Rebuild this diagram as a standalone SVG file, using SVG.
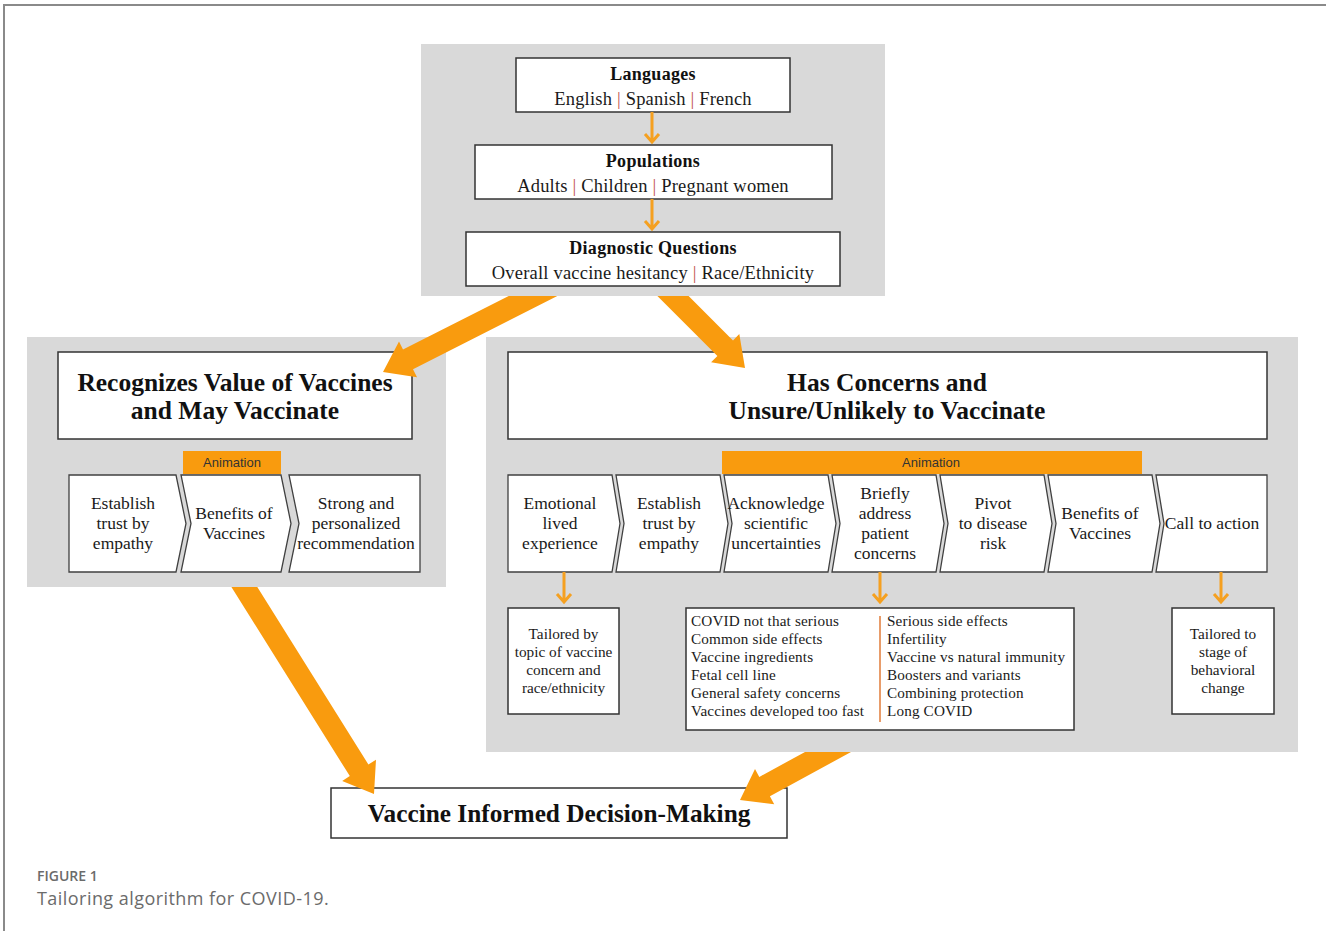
<svg xmlns="http://www.w3.org/2000/svg" width="1326" height="931" viewBox="0 0 1326 931">
<style>
.panel{fill:#d9d9d9;stroke:none}
.box{fill:#fff;stroke:#333;stroke-width:1.5}
.chev{fill:#fff;stroke:#404040;stroke-width:1.3}
.anim{fill:#f99b0e}
.t{font-family:"Liberation Serif",serif;fill:#1a1a1a;text-anchor:middle}
.h{font-family:"Liberation Serif",serif;font-weight:bold;fill:#111;text-anchor:middle}
.sub{font-size:18.5px;letter-spacing:0.2px}
.hd{font-size:18px;letter-spacing:0.3px}
.big{font-size:25.5px}
.cv{font-size:17.5px}
.sm{font-size:15.3px}
.ls{font-family:"Liberation Serif",serif;font-size:15.2px;letter-spacing:0.15px;fill:#1a1a1a}
.sep{fill:#c0504d}
.an{font-family:"Liberation Sans",sans-serif;font-size:13px;fill:#333;text-anchor:middle}
.big-arrow{fill:#f99b0e}
.sa{fill:none;stroke:#f5a020;stroke-width:3}
.cap{font-family:"Open Sans",sans-serif;fill:#6b6b6b}
</style>
<rect width="1326" height="931" fill="#fff"/>
<path d="M4,931 V5 H1326" fill="none" stroke="#8a8a8a" stroke-width="2"/>

<g id="panel-top">
<rect class="panel" x="421" y="44" width="464" height="252"/>
</g>
<g id="panel-left">
<rect class="panel" x="27" y="337" width="419" height="250"/>
</g>
<g id="panel-right">
<rect class="panel" x="486" y="337" width="812" height="415"/>
</g>

<g id="languages">
<rect class="box" x="516" y="58" width="274" height="54"/>
<text class="h hd" x="653" y="80">Languages</text>
<text class="t sub" x="653" y="105">English <tspan class="sep">|</tspan> Spanish <tspan class="sep">|</tspan> French</text>
</g>
<g id="populations">
<rect class="box" x="475" y="145" width="357" height="54"/>
<text class="h hd" x="653" y="167">Populations</text>
<text class="t sub" x="653" y="192">Adults <tspan class="sep">|</tspan> Children <tspan class="sep">|</tspan> Pregnant women</text>
</g>
<g id="diagnostic">
<rect class="box" x="466" y="232" width="374" height="54"/>
<text class="h hd" x="653" y="254">Diagnostic Questions</text>
<text class="t sub" x="653" y="279">Overall vaccine hesitancy <tspan class="sep">|</tspan> Race/Ethnicity</text>
</g>

<g id="recognizes">
<rect class="box" x="58" y="352" width="354" height="87"/>
<text class="h big" x="235" y="391">Recognizes Value of Vaccines</text>
<text class="h big" x="235" y="419">and May Vaccinate</text>
</g>
<g id="left-animation">
<rect class="anim" x="183" y="451" width="98" height="23"/>
<text class="an" x="232" y="467">Animation</text>
</g>
<g id="l-trust">
<path class="chev" d="M69,475 H176 L186,523.5 L176,572 H69 Z"/>
<text class="t cv" x="123" y="509">Establish</text>
<text class="t cv" x="123" y="529">trust by</text>
<text class="t cv" x="123" y="549">empathy</text>
</g>
<g id="l-benefits">
<path class="chev" d="M181,475 H281 L291,523.5 L281,572 H181 L191,523.5 Z"/>
<text class="t cv" x="234" y="519">Benefits of</text>
<text class="t cv" x="234" y="539">Vaccines</text>
</g>
<g id="l-strong">
<path class="chev" d="M289,475 H420 V572 H289 L299,523.5 Z"/>
<text class="t cv" x="356" y="509">Strong and</text>
<text class="t cv" x="356" y="529">personalized</text>
<text class="t cv" x="356" y="549">recommendation</text>
</g>

<g id="concerns">
<rect class="box" x="508" y="352" width="759" height="87"/>
<text class="h big" x="887" y="391">Has Concerns and</text>
<text class="h big" x="887" y="419">Unsure/Unlikely to Vaccinate</text>
</g>
<g id="right-animation">
<rect class="anim" x="722" y="451" width="420" height="23"/>
<text class="an" x="931" y="467">Animation</text>
</g>
<g id="r-emotional">
<path class="chev" d="M508,475 H612 L620,523.5 L612,572 H508 Z"/>
<text class="t cv" x="560" y="509">Emotional</text>
<text class="t cv" x="560" y="529">lived</text>
<text class="t cv" x="560" y="549">experience</text>
</g>
<g id="r-trust">
<path class="chev" d="M616,475 H720 L728,523.5 L720,572 H616 L624,523.5 Z"/>
<text class="t cv" x="669" y="509">Establish</text>
<text class="t cv" x="669" y="529">trust by</text>
<text class="t cv" x="669" y="549">empathy</text>
</g>
<g id="r-acknowledge">
<path class="chev" d="M724,475 H828 L836,523.5 L828,572 H724 L732,523.5 Z"/>
<text class="t cv" x="776" y="509">Acknowledge</text>
<text class="t cv" x="776" y="529">scientific</text>
<text class="t cv" x="776" y="549">uncertainties</text>
</g>
<g id="r-briefly">
<path class="chev" d="M832,475 H936 L944,523.5 L936,572 H832 L840,523.5 Z"/>
<text class="t cv" x="885" y="499">Briefly</text>
<text class="t cv" x="885" y="519">address</text>
<text class="t cv" x="885" y="539">patient</text>
<text class="t cv" x="885" y="559">concerns</text>
</g>
<g id="r-pivot">
<path class="chev" d="M940,475 H1044 L1052,523.5 L1044,572 H940 L948,523.5 Z"/>
<text class="t cv" x="993" y="509">Pivot</text>
<text class="t cv" x="993" y="529">to disease</text>
<text class="t cv" x="993" y="549">risk</text>
</g>
<g id="r-benefits">
<path class="chev" d="M1048,475 H1152 L1160,523.5 L1152,572 H1048 L1056,523.5 Z"/>
<text class="t cv" x="1100" y="519">Benefits of</text>
<text class="t cv" x="1100" y="539">Vaccines</text>
</g>
<g id="r-call">
<path class="chev" d="M1156,475 H1267 V572 H1156 L1164,523.5 Z"/>
<text class="t cv" x="1212" y="529">Call to action</text>
</g>

<g id="tailored-topic">
<rect class="box" x="508" y="608" width="111" height="106"/>
<text class="t sm" x="563.5" y="639">Tailored by</text>
<text class="t sm" x="563.5" y="657">topic of vaccine</text>
<text class="t sm" x="563.5" y="675">concern and</text>
<text class="t sm" x="563.5" y="693">race/ethnicity</text>
</g>
<g id="concern-list">
<rect class="box" x="686" y="608" width="388" height="122"/>
<line x1="880" y1="616" x2="880" y2="722" stroke="#e07b39" stroke-width="1.5"/>
<text class="ls" x="691" y="626">COVID not that serious</text>
<text class="ls" x="691" y="644">Common side effects</text>
<text class="ls" x="691" y="662">Vaccine ingredients</text>
<text class="ls" x="691" y="680">Fetal cell line</text>
<text class="ls" x="691" y="698">General safety concerns</text>
<text class="ls" x="691" y="716">Vaccines developed too fast</text>
<text class="ls" x="887" y="626">Serious side effects</text>
<text class="ls" x="887" y="644">Infertility</text>
<text class="ls" x="887" y="662">Vaccine vs natural immunity</text>
<text class="ls" x="887" y="680">Boosters and variants</text>
<text class="ls" x="887" y="698">Combining protection</text>
<text class="ls" x="887" y="716">Long COVID</text>
</g>
<g id="tailored-stage">
<rect class="box" x="1172" y="608" width="102" height="106"/>
<text class="t sm" x="1223" y="639">Tailored to</text>
<text class="t sm" x="1223" y="657">stage of</text>
<text class="t sm" x="1223" y="675">behavioral</text>
<text class="t sm" x="1223" y="693">change</text>
</g>

<g id="decision">
<rect class="box" x="331" y="788" width="456" height="50"/>
<text class="h" font-size="25.3" x="559" y="822">Vaccine Informed Decision-Making</text>
</g>

<g id="connectors">
<path class="sa" d="M652,112 V142 M645,134 L652,142 L659,134"/>
<path class="sa" d="M652,199 V229 M645,221 L652,229 L659,221"/>
<path class="sa" d="M564,572 V602 M557,594 L564,602 L571,594"/>
<path class="sa" d="M880,572 V602 M873,594 L880,602 L887,594"/>
<path class="sa" d="M1221,572 V602 M1214,594 L1221,602 L1228,594"/>
<polygon class="big-arrow" points="557.3,296 413,369.2 417,377.2 383,372 399,341.5 403,349.5 508.7,296"/>
<polygon class="big-arrow" points="688.6,296 733,340.4 739.3,334.1 745,368 711.1,362.3 717.4,356 657.4,296"/>
<polygon class="big-arrow" points="257.3,587 368.4,764.5 376,759.7 374,794 342.2,780.9 349.8,776.1 231.4,587"/>
<polygon class="big-arrow" points="851,752 769.9,796.3 774.2,804.2 740,800 755,769 759.3,776.9 805,752"/>
</g>

<g id="caption">
<text class="cap" x="37" y="881" font-size="14" font-weight="600">FIGURE 1</text>
<text class="cap" x="37" y="905" font-size="18" letter-spacing="0.45">Tailoring algorithm for COVID-19.</text>
</g>
</svg>
